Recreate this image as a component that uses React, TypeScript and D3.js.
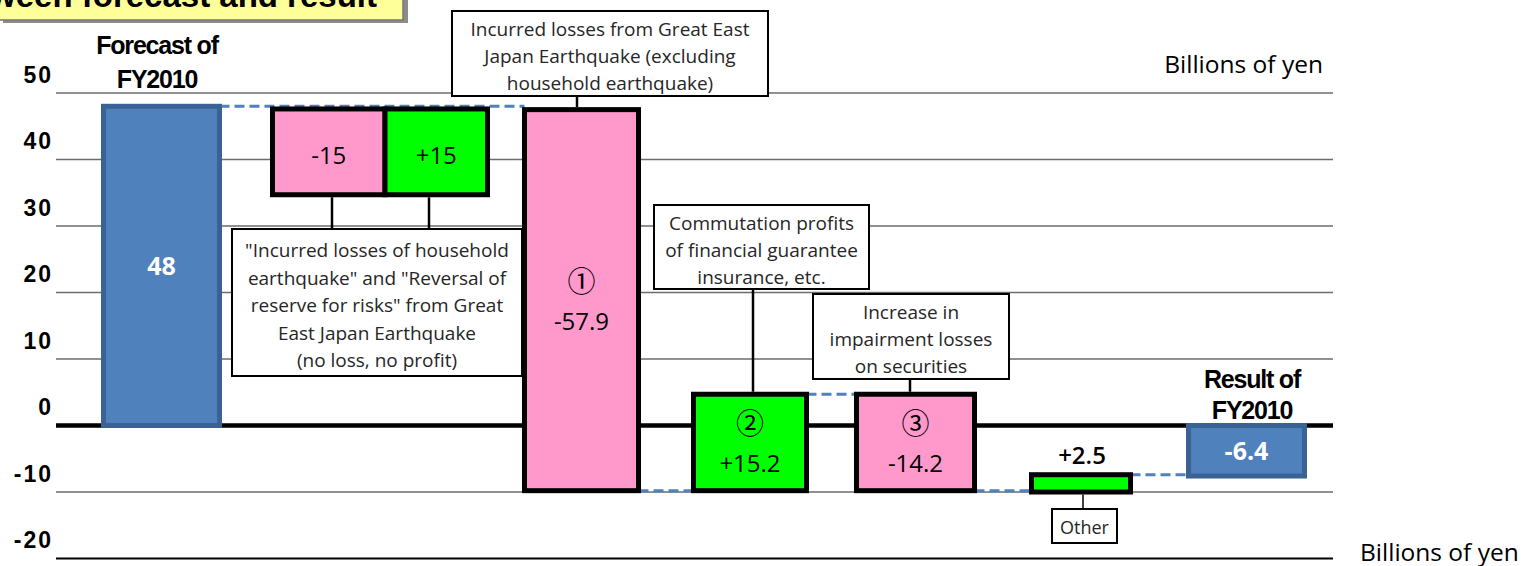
import React from "react";
import * as d3 from "d3";

// ---------- data ----------
const categories = [
  "Forecast of FY2010",
  "Household earthquake losses",
  "Reversal of reserve for risks",
  "Incurred losses (excl. household)",
  "Commutation profits",
  "Impairment losses on securities",
  "Other",
  "Result of FY2010",
];
const valueLabels = ["48", "-15", "+15", "-57.9", "+15.2", "-14.2", "+2.5", "-6.4"];
const circledMarks = ["", "", "", "①", "②", "③", "", ""];
const barTops = [48, 47.6, 47.6, 47.5, 4.7, 4.7, -7.4, 0];
const barBottoms = [0, 34.7, 34.7, -9.8, -9.8, -9.8, -10, -7.6];
const barKinds = ["total", "decrease", "increase", "decrease", "increase", "decrease", "increase", "total"];
const yTicks = [50, 40, 30, 20, 10, 0, -10, -20];
const unitLabel = "Billions of yen";
const titleText = "Difference between forecast and result";
const connFrom = [0, 3, 4, 5, 6];
const connTo = [3, 4, 5, 6, 7];
const connValues = [48, -9.8, 4.7, -9.8, -7.4];

const annotationLines = [
  ["Incurred losses from Great East", "Japan Earthquake (excluding", "household earthquake)"],
  ['"Incurred losses of household', 'earthquake" and "Reversal of', 'reserve for risks" from Great', "East Japan Earthquake", "(no loss, no profit)"],
  ["Commutation profits", "of financial guarantee", "insurance, etc."],
  ["Increase in", "impairment losses", "on securities"],
  ["Other"],
];
const annotationTargets = [[3], [1, 2], [4], [5], [6]];
const annotationSide = ["above", "below", "above", "above", "below"];

// ---------- layout ----------
const W = 1525;
const H = 566;
const X_CENTERS = [161.5, 328.75, 436.25, 581.5, 750, 915.5, 1081, 1246.5];
const X_WIDTHS = [116, 112.5, 102.5, 114, 113, 118, 99, 116];
const BOXES = [
  { x: 452, y: 11, w: 316, h: 85, first: 25, lh: 27, fs: 19 },
  { x: 232, y: 229, w: 290, h: 147, first: 28, lh: 27.5, fs: 19 },
  { x: 654, y: 205, w: 215, h: 84, first: 25, lh: 27, fs: 19 },
  { x: 813, y: 294, w: 196, h: 85, first: 25, lh: 27, fs: 19 },
  { x: 1052, y: 509, w: 65, h: 34, first: 25, lh: 20, fs: 18 },
];
const LEADER_OFFSETS = [[-4.5], [3.25, -7.25], [3], [-5.5], [2]];
const GRID_X0 = 56;
const GRID_X1 = 1333;

const FONT = "'Open Sans', 'Noto Sans', sans-serif";
const BOLD = "'Liberation Sans', Arial, sans-serif";

const fills: Record<string, string> = { total: "#4F81BD", decrease: "#FF99CC", increase: "#00FF00" };
const strokes: Record<string, string> = { total: "#3B6294", decrease: "#000", increase: "#000" };

export default function App() {
  const y = d3.scaleLinear().domain([-20, 50]).range([558.5, 93]);
  const xc = d3.scaleOrdinal<string, number>().domain(categories).range(X_CENTERS);
  const xw = d3.scaleOrdinal<string, number>().domain(categories).range(X_WIDTHS);
  const SW = 5;

  const left = (i: number) => xc(categories[i]) - xw(categories[i]) / 2;
  const right = (i: number) => xc(categories[i]) + xw(categories[i]) / 2;

  const header = (txt: string, x: number, yy: number) => (
    <text x={x} y={yy} textAnchor="middle" fontFamily={BOLD} fontWeight="bold" fontSize={25} letterSpacing={-1.2} fill="#000">
      {txt}
    </text>
  );

  return (
    <svg width={W} height={H} style={{ position: "absolute", left: 0, top: 0, background: "#fff" }}>
      {/* title box (clipped at top) */}
      <rect x={3} y={-30} width={405} height={53} fill="#8c8c8c" />
      <rect x={-2} y={-30} width={405} height={50} fill="#FFFF99" stroke="#777" strokeWidth={1.5} />
      <text x={377} y={7} textAnchor="end" fontFamily={BOLD} fontWeight="bold" fontSize={33} fill="#000">
        {titleText}
      </text>

      {/* gridlines */}
      {yTicks.map((t) => (
        <line
          key={"g" + t}
          x1={GRID_X0}
          x2={GRID_X1}
          y1={y(t)}
          y2={y(t)}
          stroke={t === 0 || t === -20 ? "#000" : "#6b6b6b"}
          strokeWidth={t === 0 ? 4.5 : t === -20 ? 2 : 1.5}
        />
      ))}
      {yTicks.map((t) => (
        <text key={"t" + t} x={53} y={y(t) - 10.5} textAnchor="end" fontFamily={BOLD} fontWeight="bold" fontSize={23} letterSpacing={2} fill="#000">
          {t}
        </text>
      ))}

      {/* unit labels */}
      <text x={1323} y={73} textAnchor="end" fontFamily={FONT} fontSize={24.5} fill="#000">{unitLabel}</text>
      <text x={1360} y={561} textAnchor="start" fontFamily={FONT} fontSize={24.5} fill="#000">{unitLabel}</text>

      {/* annotation boxes */}
      {annotationLines.map((lines, k) => {
        const b = BOXES[k];
        return (
          <g key={"a" + k}>
            <rect x={b.x} y={b.y} width={b.w} height={b.h} fill="#fff" stroke="#000" strokeWidth={2} />
            {lines.map((ln, j) => (
              <text key={j} x={b.x + b.w / 2} y={b.y + b.first + j * b.lh} textAnchor="middle" fontFamily={FONT} fontSize={b.fs} fill="#262626">
                {ln}
              </text>
            ))}
          </g>
        );
      })}

      {/* dashed connectors */}
      {connValues.map((v, k) => (
        <line
          key={"c" + k}
          x1={right(connFrom[k])}
          x2={left(connTo[k])}
          y1={y(v)}
          y2={y(v)}
          stroke="#4F81BD"
          strokeWidth={3}
          strokeDasharray="10 5"
        />
      ))}

      {/* bars */}
      {categories.map((c, i) => (
        <rect
          key={"b" + i}
          x={left(i)}
          y={y(barTops[i])}
          width={xw(c)}
          height={y(barBottoms[i]) - y(barTops[i])}
          fill={fills[barKinds[i]]}
          stroke={strokes[barKinds[i]]}
          strokeWidth={SW}
        />
      ))}

      {/* leader lines */}
      {annotationTargets.map((targets, k) => {
        const b = BOXES[k];
        return targets.map((ti, j) => {
          const x = xc(categories[ti]) + LEADER_OFFSETS[k][j];
          const yA = annotationSide[k] === "above" ? b.y + b.h : y(barBottoms[ti]) + SW / 2;
          const yB = annotationSide[k] === "above" ? y(barTops[ti]) - SW / 2 : b.y;
          return <line key={"l" + k + "-" + ti} x1={x} x2={x} y1={yA} y2={yB} stroke="#000" strokeWidth={k === 4 ? 1.5 : 2.5} />;
        });
      })}

      {/* value labels */}
      {categories.map((c, i) => {
        const cx = xc(c);
        const kind = barKinds[i];
        const mid = (y(barTops[i]) + y(barBottoms[i])) / 2;
        if (kind === "total") {
          return (
            <text key={"v" + i} x={cx} y={mid + 9} textAnchor="middle" fontFamily={FONT} fontWeight="bold" fontSize={25} fill="#fff">
              {valueLabels[i]}
            </text>
          );
        }
        if (c === "Other") {
          return (
            <text key={"v" + i} x={cx + 1} y={y(barTops[i]) - 11} textAnchor="middle" fontFamily={FONT} fontWeight={600} fontSize={24} fill="#000">
              {valueLabels[i]}
            </text>
          );
        }
        if (circledMarks[i]) {
          return (
            <g key={"v" + i}>
              <text x={cx} y={mid - 8} textAnchor="middle" fontFamily="'Noto Sans CJK JP', 'DejaVu Sans', sans-serif" fontSize={28} fill="#000">
                {circledMarks[i]}
              </text>
              <text x={cx} y={mid + 30} textAnchor="middle" fontFamily={FONT} fontSize={24} fill="#000">
                {valueLabels[i]}
              </text>
            </g>
          );
        }
        return (
          <text key={"v" + i} x={cx} y={mid + 12} textAnchor="middle" fontFamily={FONT} fontSize={24} fill="#000">
            {valueLabels[i]}
          </text>
        );
      })}

      {/* total headers */}
      {header("Forecast of", 157, 54)}
      {header("FY2010", 157, 88)}
      {header("Result of", 1252, 388)}
      {header("FY2010", 1252, 419)}
    </svg>
  );
}
